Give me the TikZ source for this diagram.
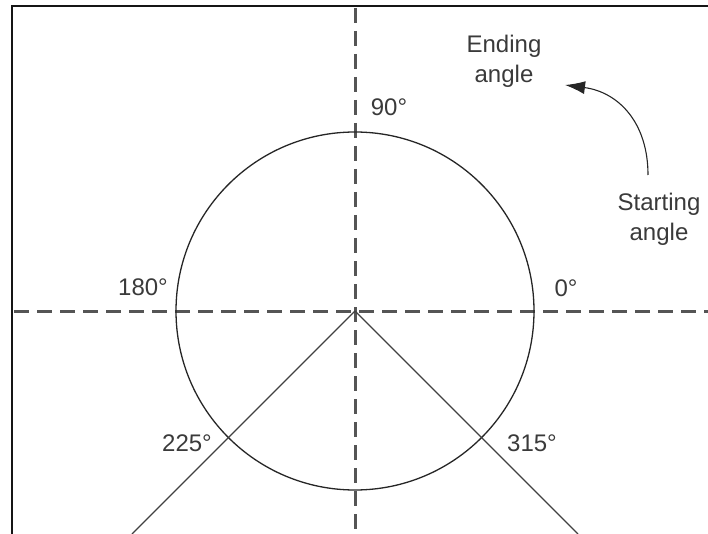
\documentclass[tikz,border=0pt]{standalone}
\usepackage{fontspec}
\setmainfont{Liberation Sans}
\usetikzlibrary{arrows.meta}
\definecolor{labelgray}{HTML}{3A3A3A}
\definecolor{axisgray}{HTML}{555555}
\definecolor{framegray}{HTML}{151515}
\begin{document}
\begin{tikzpicture}[x=1pt,y=-1pt,
  lbl/.style={font=\fontsize{24}{30}\selectfont, text=labelgray, inner sep=0pt, align=center},
  axisline/.style={draw=axisgray, line width=3pt, dash pattern=on 15pt off 8pt},
  frameline/.style={draw=framegray, line width=2.8pt},
  ray/.style={draw=black!75, line width=1.1pt},
  circ/.style={draw=black!85, line width=1.3pt},
  turn/.style={draw=black!85, line width=1.1pt, -{Latex[length=20pt,width=13pt]}}]
\useasboundingbox (0,0) rectangle (708,534);
% frame (top and left edges)
\coordinate (ftl) at (12,6);
\coordinate (ftr) at (708,6);
\coordinate (fbl) at (12,534);
\draw[frameline] (ftr) -- (ftl) -- (fbl);
% axes
\coordinate (c) at (355,311);
\coordinate (hl) at (14,311);
\coordinate (hr) at (708,311);
\coordinate (vt) at (355,8);
\coordinate (vb) at (355,534);
\draw[axisline] (hl) -- (hr);
\draw[axisline] (vt) -- (vb);
% circle
\node[circ, circle, minimum size=358pt, inner sep=0pt] (circle) at (c) {};
% rays
\coordinate (r225) at (132,534);
\coordinate (r315) at (578,534);
\draw[ray] (c) -- (r225);
\draw[ray] (c) -- (r315);
% labels
\node[lbl] (l90) at (389,107) {90°};
\node[lbl] (l180) at (143,287) {180°};
\node[lbl] (l0) at (566,288) {0°};
\node[lbl] (l225) at (187,443) {225°};
\node[lbl] (l315) at (532,443) {315°};
\node[lbl] (ending) at (504,61) {Ending\\angle};
\node[lbl] (starting) at (659,219) {Starting\\angle};
% arrow
\coordinate (as) at (648,175);
\coordinate (ae) at (565,85);
\draw[turn] (as) .. controls (648,122) and (618,92) .. (ae);
\end{tikzpicture}
\end{document}
